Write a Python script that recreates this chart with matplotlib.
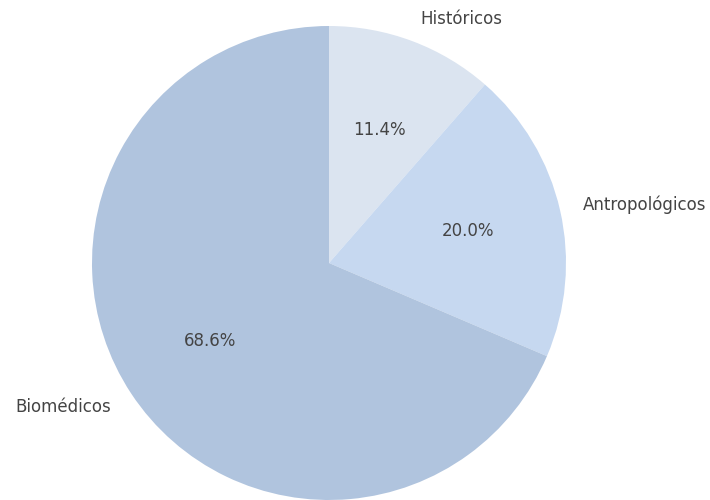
import matplotlib
matplotlib.use("Agg")
import matplotlib.pyplot as plt

# datos
categorias = ["Históricos", "Antropológicos", "Biomédicos"]
cuentas = [4, 7, 24]
colores = ["#dbe4f0", "#c6d8f0", "#b0c4de"]

fig = plt.figure(figsize=(7.1, 5), dpi=100)
ax = fig.add_axes([92 / 710, 0, 474 / 710, 474 / 500])

ax.pie(cuentas, labels=categorias, colors=colores, autopct="%1.1f%%",
       startangle=90, counterclock=False, radius=1,
       textprops={"color": "#444444", "fontsize": 12})
ax.set_xlim(-1, 1)
ax.set_ylim(-1, 1)
ax.set_aspect("auto")
ax.axis("off")

fig.savefig("out.png", dpi=100)
